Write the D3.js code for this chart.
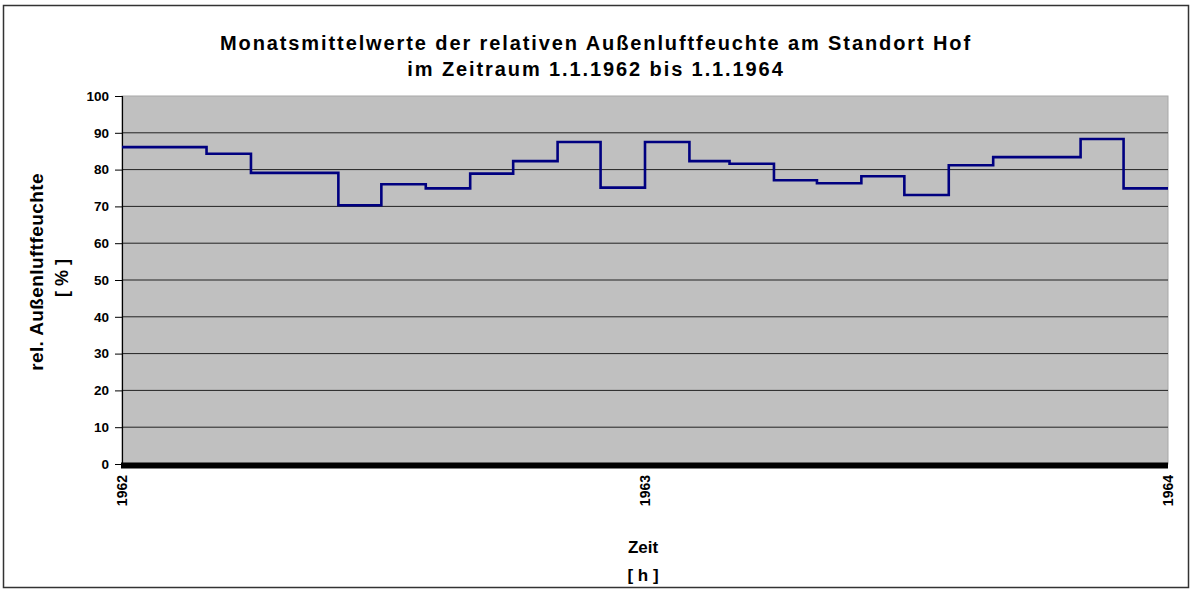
<!DOCTYPE html>
<html>
<head>
<meta charset="utf-8">
<script src="https://cdn.jsdelivr.net/npm/d3@7"></script>
<style>
  body { margin: 0; background: #fff; }
  text { font-family: "Liberation Sans", Arial, sans-serif; font-weight: bold; fill: #000; }
</style>
</head>
<body>
<svg id="chart" width="1192" height="590"></svg>
<script>
// monthly means Jan 1962 .. Dec 1963
const months = d3.range(24).map(i => new Date(1962, i, 1))
const humidity = [86.1, 86.1, 84.3, 79.1, 79.1, 70.3, 76.0, 74.9, 78.9, 82.3, 87.5, 75.1,
                  87.5, 82.3, 81.6, 77.1, 76.3, 78.2, 73.1, 81.2, 83.4, 83.4, 88.3, 74.9]
const yTicks = [0, 10, 20, 30, 40, 50, 60, 70, 80, 90, 100]
const xTicks = [new Date(1962, 0, 1), new Date(1963, 0, 1), new Date(1964, 0, 1)]
const titleLines = ["Monatsmittelwerte der relativen Außenluftfeuchte am Standort Hof",
                    "im Zeitraum 1.1.1962 bis 1.1.1964"]

const svg = d3.select('#chart')
const plotLeft = 122, plotRight = 1168, plotTop = 96, plotBottom = 464

const x = d3.scaleTime().domain([xTicks[0], xTicks[2]]).range([plotLeft, plotRight])
const y = d3.scaleLinear().domain([0, 100]).range([plotBottom, plotTop])

// outer frame
svg.append('rect')
    .attr('x', 3.5).attr('y', 5.5)
    .attr('width', 1185).attr('height', 582)
    .attr('fill', 'none').attr('stroke', '#333').attr('stroke-width', 1.5)

// title
svg.selectAll('.title').data(titleLines).enter().append('text')
    .attr('class', 'title')
    .attr('x', 596)
    .attr('y', (d, i) => 50 + i * 26)
    .attr('text-anchor', 'middle')
    .attr('font-size', 20)
    .attr('letter-spacing', 1.9)
    .attr('fill', '#111')
    .text(d => d)

// plot background
svg.append('rect')
    .attr('x', plotLeft).attr('y', plotTop)
    .attr('width', plotRight - plotLeft).attr('height', plotBottom - plotTop)
    .attr('fill', '#c0c0c0').attr('stroke', '#a8a8a8')

// gridlines
svg.append('g').selectAll('line').data(yTicks.filter(d => d > 0 && d < 100)).enter().append('line')
    .attr('x1', plotLeft).attr('x2', plotRight)
    .attr('y1', d => y(d)).attr('y2', d => y(d))
    .attr('stroke', '#222').attr('stroke-width', 1)

// y axis
const yAxis = svg.append('g')
    .attr('transform', `translate(${plotLeft},0)`)
    .call(d3.axisLeft(y).tickValues(yTicks).tickSize(7).tickPadding(6))
yAxis.select('.domain').attr('stroke', '#000').attr('stroke-width', 1.2)
yAxis.selectAll('.tick line').attr('stroke', '#000')
yAxis.selectAll('.tick text')
    .attr('font-size', 13.5)
    .attr('font-family', '"Liberation Sans", Arial, sans-serif')
    .attr('font-weight', 'bold')
    .attr('fill', '#000')

// thick x axis
svg.append('line')
    .attr('x1', plotLeft - 1).attr('x2', plotRight)
    .attr('y1', y(0) + 1.5).attr('y2', y(0) + 1.5)
    .attr('stroke', '#000').attr('stroke-width', 6)

// x tick labels (rotated)
svg.append('g').selectAll('text').data(xTicks).enter().append('text')
    .attr('transform', d => `translate(${x(d) + 5},${plotBottom + 11}) rotate(-90)`)
    .attr('text-anchor', 'end')
    .attr('font-size', 14)
    .text(d => d3.timeFormat('%Y')(d))

// step line
const pts = months.map((m, i) => [m, humidity[i]])
pts.push([xTicks[2], humidity[humidity.length - 1]])
const line = d3.line()
    .x(d => x(d[0]))
    .y(d => y(d[1]))
    .curve(d3.curveStepAfter)
svg.append('path')
    .datum(pts)
    .attr('d', line)
    .attr('fill', 'none')
    .attr('stroke', '#000080')
    .attr('stroke-width', 2.6)

// axis titles
svg.append('text')
    .attr('transform', 'translate(43,272) rotate(-90)')
    .attr('text-anchor', 'middle')
    .attr('font-size', 19)
    .attr('letter-spacing', 0.4)
    .text('rel. Außenluftfeuchte')
svg.append('text')
    .attr('transform', 'translate(68,278) rotate(-90)')
    .attr('text-anchor', 'middle')
    .attr('font-size', 18)
    .text('[ % ]')

svg.append('text')
    .attr('x', 643).attr('y', 553)
    .attr('text-anchor', 'middle')
    .attr('font-size', 17)
    .text('Zeit')
svg.append('text')
    .attr('x', 643).attr('y', 581)
    .attr('text-anchor', 'middle')
    .attr('font-size', 17)
    .text('[ h ]')
</script>
</body>
</html>
